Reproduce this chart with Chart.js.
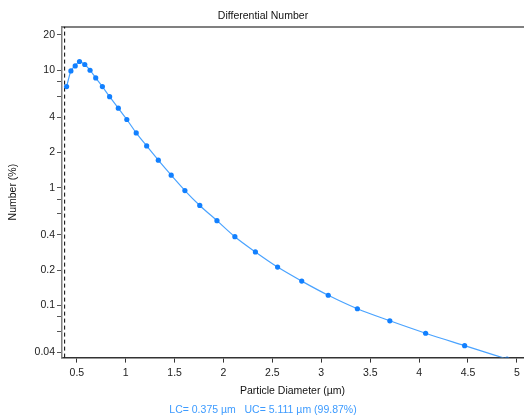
<!DOCTYPE html>
<html>
<head>
<meta charset="utf-8">
<script src="https://cdn.jsdelivr.net/npm/chart.js@4/dist/chart.umd.min.js"></script>
<style>
  html, body { margin: 0; padding: 0; background: #fff; }
  #wrap { width: 527px; height: 418px; }
</style>
</head>
<body>
<div id="wrap"><canvas id="chart" width="527" height="418"></canvas></div>
<script>
// particle diameter (um) and differential number (%)
const diameters = [0.395, 0.439, 0.483, 0.527, 0.581, 0.635, 0.693, 0.761, 0.835, 0.924,
    1.011, 1.107, 1.214, 1.333, 1.465, 1.605, 1.757, 1.933, 2.116, 2.326,
    2.553, 2.800, 3.071, 3.369, 3.701, 4.067, 4.466, 4.90];
const numberPct = [7.26, 9.86, 10.88, 11.87, 11.19, 10.0, 8.60, 7.26, 5.96, 4.76,
    3.81, 2.93, 2.27, 1.72, 1.28, 0.948, 0.708, 0.526, 0.384, 0.285,
    0.212, 0.161, 0.122, 0.0937, 0.0740, 0.0580, 0.0455, 0.035];

const xTicks = [0.5, 1, 1.5, 2, 2.5, 3, 3.5, 4, 4.5, 5];
const yTicks = [0.04, 0.06, 0.08, 0.1, 0.2, 0.4, 0.6, 0.8, 1, 2, 4, 6, 8, 10, 20];
const yLabelled = [0.04, 0.1, 0.2, 0.4, 1, 2, 4, 10, 20];

const lcValue = 0.375;
const xRange = [0.348, 5.063];
const yRange = [0.036, 23.5];

// the original uses a narrow face; plain Liberation Sans a bit smaller is the closest we have
const FONT = "'Liberation Sans Narrow', 'Liberation Sans', Arial, sans-serif";
const font = (size) => ({ family: FONT, size, weight: 'normal', lineHeight: 1.2 });

const ctx = document.getElementById('chart').getContext('2d');

new Chart(ctx, {
    type: 'line',
    data: {
        datasets: [
            {
                label: 'Differential Number',
                data: diameters.map((d, i) => ({ x: d, y: numberPct[i] })),
                borderColor: '#4aa3ff',
                borderWidth: 1.2,
                pointRadius: 2.6,
                pointBackgroundColor: '#1280ff',
                pointBorderWidth: 0,
                cubicInterpolationMode: 'monotone',
                fill: false,
            },
            {
                label: 'LC',
                data: [{ x: lcValue, y: yRange[0] }, { x: lcValue, y: yRange[1] }],
                borderColor: '#000',
                borderWidth: 1,
                borderDash: [4, 3],
                pointRadius: 0,
                fill: false,
            },
        ],
    },
    options: {
        responsive: false,
        animation: false,
        layout: { padding: { left: 0, right: 1, top: 0, bottom: 0 } },
        plugins: {
            legend: { display: false },
            tooltip: { enabled: false },
            title: {
                display: true,
                text: 'Differential Number',
                color: '#111',
                font: font(10.5),
                padding: { top: 10, bottom: 4 },
            },
            subtitle: {
                display: true,
                position: 'bottom',
                text: 'LC= 0.375 µm\u00a0\u00a0\u00a0UC= 5.111 µm (99.87%)',
                color: '#3d9bff',
                font: font(10.5),
                padding: { top: 0, bottom: 2 },
            },
        },
        scales: {
            x: {
                type: 'linear',
                min: xRange[0],
                max: xRange[1],
                afterBuildTicks: (scale) => { scale.ticks = xTicks.map(v => ({ value: v })); },
                afterFit: (scale) => { scale.height = 45.8; },
                border: { display: true, color: '#333', width: 1.5 },
                grid: { drawOnChartArea: false, drawTicks: true, tickLength: 5, tickColor: '#333' },
                ticks: {
                    color: '#222',
                    font: font(10.5),
                    padding: 4,
                    maxRotation: 0,
                    autoSkip: false,
                    callback: (v) => String(v),
                },
                title: {
                    display: true,
                    text: 'Particle Diameter (µm)',
                    color: '#111',
                    font: font(10.5),
                    padding: { top: 0, bottom: 6 },
                },
            },
            xTop: {
                type: 'linear',
                position: 'top',
                min: xRange[0],
                max: xRange[1],
                afterFit: (scale) => { scale.height = 0; },
                border: { display: true, color: '#808080', width: 2 },
                grid: { display: false },
                ticks: { display: false },
            },
            y: {
                type: 'logarithmic',
                min: yRange[0],
                max: yRange[1],
                afterBuildTicks: (scale) => { scale.ticks = yTicks.map(v => ({ value: v })); },
                afterFit: (scale) => { scale.width = 62; },
                border: { display: true, color: '#808080', width: 1.5 },
                grid: { drawOnChartArea: false, drawTicks: true, tickLength: 5, tickColor: '#555' },
                ticks: {
                    color: '#222',
                    font: font(10.5),
                    padding: 2,
                    autoSkip: false,
                    callback: (v) => yLabelled.includes(v) ? String(v) : '',
                },
                title: {
                    display: true,
                    text: 'Number (%)',
                    color: '#111',
                    font: font(10.5),
                    padding: { top: 7, bottom: 0 },
                },
            },
        },
    },
});
</script>
</body>
</html>
